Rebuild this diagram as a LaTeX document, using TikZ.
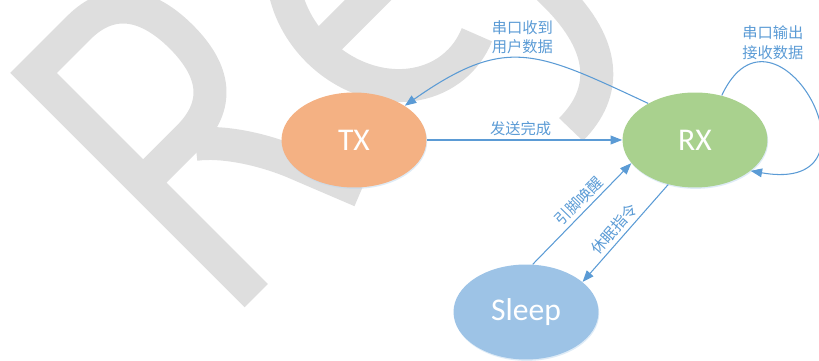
\documentclass[tikz,border=0pt]{standalone}
\usepackage{fontspec}
\setmainfont{Carlito}
\newfontfamily\cjk{Noto Sans CJK SC}
\usetikzlibrary{shapes.geometric,arrows.meta,shadows}
\definecolor{txorange}{HTML}{F4B183}
\definecolor{rxgreen}{HTML}{A9D18E}
\definecolor{sleepblue}{HTML}{9DC3E6}
\definecolor{linkblue}{HTML}{5B9BD5}
\definecolor{markgray}{HTML}{DEDEDE}
\begin{document}
\begin{tikzpicture}[x=0.02cm,y=0.02cm,>={Triangle[length=6.5pt,width=5pt]}]
\tikzstyle{state}=[ellipse,minimum width=2.9cm,minimum height=1.9cm,inner sep=0pt,text=white,font=\fontsize{18}{18}\selectfont,drop shadow={shadow xshift=0.4pt,shadow yshift=-0.8pt,fill=linkblue!40,opacity=0.5}]
\tikzstyle{tag}=[text=linkblue,font=\cjk\fontsize{8.7}{11.3}\selectfont,align=center,inner sep=2pt]
\tikzstyle{wmstroke}=[draw=markgray,line width=0.66cm,line join=miter]
\useasboundingbox (0,0) rectangle (819,361);
\begin{scope}
\clip (0,0) rectangle (819,361);
\begin{scope}[shift={(245,54)},rotate=45]
\draw[wmstroke] (16,0) -- (16,315) -- (80,315) .. controls (125,315) and (146,285) .. (146,236)
    .. controls (146,187) and (125,160) .. (80,160) -- (16,160);
\draw[wmstroke] (80,150) .. controls (100,135) and (125,100) .. (140,60) -- (164,0);
\draw[wmstroke] (233,130) -- (417,130) arc[start angle=0,end angle=290,x radius=92,y radius=108];
\draw[wmstroke] (440,260) -- (440,0) .. controls (440,-70) and (410,-105) .. (356,-105);
\end{scope}
\end{scope}
\node[state,fill=txorange] (tx) at (354,221) {TX};
\node[state,fill=rxgreen] (rx) at (695,221) {RX};
\node[state,fill=sleepblue] (sleep) at (526,49) {Sleep};
\path[linkblue,line width=0.6pt]
    (tx) [->] edge node[tag,above,pos=0.48] {发送完成} (rx)
    (rx.142) [->] edge[out=155,in=35,looseness=1.3] node[tag,above] {串口收到\\用户数据} (tx.34)
    (rx.59) [->] edge[out=65,in=-10,out looseness=4,in looseness=4.6] node[tag,above,pos=0.27] {串口输出\\接收数据} (rx.331)
    (sleep.82) [->] edge node[tag,above,sloped,pos=0.55] {引脚唤醒} (rx.200)
    (rx.239) [->] edge node[tag,above,sloped,pos=0.53] {休眠指令} (sleep.28);
\end{tikzpicture}
\end{document}
